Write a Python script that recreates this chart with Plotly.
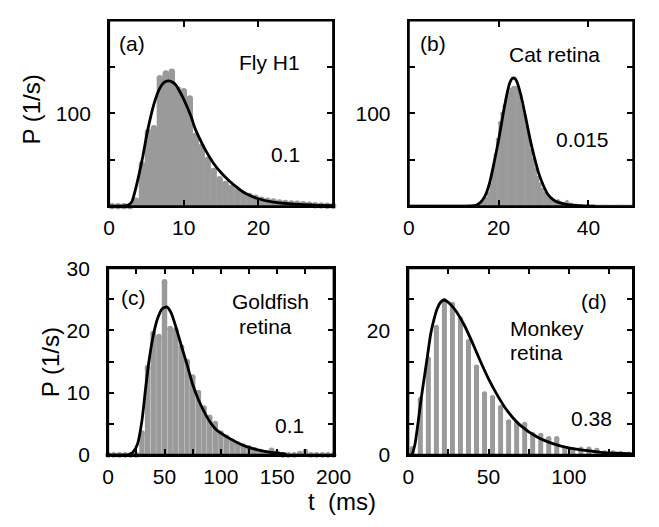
import plotly.graph_objects as go

W, H = 659, 527
GRAY = "#9a9a9a"
FONT = "Liberation Sans, Arial, Helvetica, sans-serif"

# ---------------- data ----------------
# (a) Fly H1
a_hist_t = [0.4, 1.2, 2.0, 2.8, 3.6, 4.4, 5.2, 6.0, 6.8, 7.6, 8.4, 9.2, 10.0, 10.8, 11.6, 12.4,
            13.2, 14.0, 14.8, 15.6, 16.4, 17.2, 18.0, 18.8, 19.6, 20.4, 21.2, 22.0, 22.8, 23.6,
            24.4, 25.2, 26.0, 26.8, 27.6, 28.4, 29.2, 30.0]
a_hist_v = [0, 0, 0, 0, 6, 45, 80, 84, 138, 143, 145, 126, 124, 116, 76, 64,
            50, 38, 29, 24, 20, 16, 13, 11, 9, 7, 6, 5, 4, 3.5,
            3, 2.5, 2, 1.5, 1, 0.8, 0.5, 0.3]
a_fit_t = [0, 2, 2.5, 3, 3.5, 4, 4.5, 5, 5.5, 6, 6.5, 7, 7.5, 8, 8.5, 9, 9.5, 10, 10.5, 11,
           11.5, 12, 13, 14, 15, 16, 17, 18, 19, 20, 22, 24, 26, 28, 30]
a_fit_v = [0, 0.3, 1, 4, 17, 34, 53, 75, 94, 110, 122, 130, 134, 135, 133.5, 130, 123, 115, 106, 96,
           84, 75, 59, 46, 36, 28, 21, 15, 11, 8, 4.3, 2.6, 1.6, 0.9, 0.5]

# (b) Cat retina
b_hist_t = [0.25 + 0.5 * i for i in range(100)]
b_hist_v = [0] * 32 + [3, 5, 8, 14, 24, 38, 55, 72, 90, 100, 108, 115, 122, 126, 128, 128,
                       126, 118, 108, 98, 85, 72, 60, 50, 40, 31, 24, 18, 14, 11, 9, 7,
                       6, 5, 6, 4, 3, 3, 5, 2, 2, 1, 1, 0.5, 0.5] + [0] * 23
b_fit_t = [0, 14, 15, 16, 17, 18, 19, 20, 21, 22, 22.5, 23, 23.5, 24, 25, 26, 27, 28, 29, 30,
           31, 32, 33, 35, 37, 39, 41.5]
b_fit_v = [0, 0.2, 1, 4.2, 11, 25, 47, 71, 99, 124, 133, 137.5, 138, 135, 119, 96.5, 72.5, 52, 34.5, 22,
           12.5, 7.5, 4.6, 2, 0.8, 0.3, 0]

# (c) Goldfish retina
c_hist_t = [5 * i for i in range(41)]
c_hist_v = [0, 0, 0, 0, 0, 0, 3.5, 14, 19.5, 19, 27.8, 20.3, 20, 17.3, 15, 12.5, 10, 7.5, 6, 5,
            3.5, 2.8, 2.2, 1.7, 1.4, 1.1, 0.8, 0.5, 0.3, 0.7, 0.3, 0, 0, 0, 0.2, 0.5, 0, 0, 0, 0, 0]
c_fit_t = [0, 18, 22, 26, 30, 33, 36, 40, 44, 48, 52, 56, 60, 65, 70, 75, 80, 85, 90, 95,
           100, 110, 120, 130, 140, 150, 158]
c_fit_v = [0, 0, 0.4, 1.7, 5.5, 10.3, 14.8, 19.2, 22, 23.5, 23.8, 22.8, 20.6, 17.5, 14.5, 11.3, 8.9, 7.0, 5.4, 4.2,
           3.5, 2.4, 1.5, 0.9, 0.5, 0.25, 0.1]

# (d) Monkey retina
d_hist_t = [2.5 + 5 * i for i in range(28)]
d_hist_v = [1.0, 8.9, 15.4, 20.5, 24.8, 24.2, 21.8, 18.2, 14.1, 9.8, 9.2, 7.6, 5.3, 5.0,
            4.9, 3.3, 3.1, 2.6, 2.6, 1.0, 0.8, 0.9, 0.9, 0.7, 0.3, 0.3, 0.2, 0.1]
d_fit_t = [0, 2, 4, 6, 8, 10, 12, 14, 16, 18, 20, 22, 24, 27, 30, 35, 40, 45, 50, 55,
           60, 65, 70, 80, 90, 100, 110, 120, 130, 140]
d_fit_v = [0, 0, 1.5, 5, 9, 12.5, 16, 19.5, 21.8, 23.5, 24.5, 24.9, 24.7, 24, 23, 20.8, 18, 15, 12.2, 9.8,
           7.7, 6, 4.7, 2.9, 1.8, 1.1, 0.7, 0.4, 0.25, 0.15]

panels = [
    dict(ht=a_hist_t, hv=a_hist_v, ft=a_fit_t, fv=a_fit_v, bw=0.86, ms=6.4),
    dict(ht=b_hist_t, hv=b_hist_v, ft=b_fit_t, fv=b_fit_v, bw=0.6, ms=3.4),
    dict(ht=c_hist_t, hv=c_hist_v, ft=c_fit_t, fv=c_fit_v, bw=4.8, ms=5.8),
    dict(ht=d_hist_t, hv=d_hist_v, ft=d_fit_t, fv=d_fit_v, bw=3.1, ms=5.3),
]

# pixel boxes of the four plot areas (left, right, top, bottom)
boxes = [(107, 339.5, 9, 203), (418, 651, 9, 203), (106, 340, 268, 463), (417.5, 650.7, 268, 463)]

fig = go.Figure()
for i, p in enumerate(panels):
    xa = "x" if i == 0 else f"x{i+1}"
    ya = "y" if i == 0 else f"y{i+1}"
    fig.add_trace(go.Bar(x=p["ht"], y=p["hv"], width=p["bw"], marker=dict(color=GRAY, line_width=0),
                         xaxis=xa, yaxis=ya, hoverinfo="skip"))
    fig.add_trace(go.Scatter(x=p["ht"], y=p["hv"], mode="markers",
                             marker=dict(size=p["ms"], color=GRAY, line_width=0),
                             cliponaxis=False, xaxis=xa, yaxis=ya, hoverinfo="skip"))
    fig.add_trace(go.Scatter(x=p["ft"], y=p["fv"], mode="lines",
                             line=dict(color="black", width=2.8, shape="spline", smoothing=0.6),
                             xaxis=xa, yaxis=ya, hoverinfo="skip"))

tickfont = dict(family=FONT, size=21, color="black")
common = dict(showline=True, linecolor="black", linewidth=2, mirror="allticks", ticks="inside",
              ticklen=6, tickwidth=1.5, tickcolor="black", showgrid=False, zeroline=False,
              tickfont=tickfont)

xcfg = [
    dict(range=[0, 30], tickvals=[0, 10, 20], ticktext=["0", "10", "20"]),
    dict(range=[0, 50], tickvals=[0, 20, 40], ticktext=["0", "20", "40"]),
    dict(range=[0, 200], tickvals=[0, 25, 50, 75, 100, 125, 150, 175, 200],
         ticktext=["0", "", "50", "", "100", "", "150", "", "200"]),
    dict(range=[0, 140], tickvals=[0, 25, 50, 75, 100, 125], ticktext=["0", "", "50", "", "100", ""]),
]
ycfg = [
    dict(range=[0, 200], tickvals=[50, 100, 150], ticktext=["", "100", ""]),
    dict(range=[0, 200], tickvals=[50, 100, 150], ticktext=["", "100", ""]),
    dict(range=[0, 30], tickvals=[0, 5, 10, 15, 20, 25, 30], ticktext=["0", "", "10", "", "20", "", "30"]),
    dict(range=[0, 30], tickvals=[0, 5, 10, 15, 20, 25], ticktext=["0", "", "", "", "20", ""]),
]

lay = {}
for i, (l, r, t, b) in enumerate(boxes):
    sx = "" if i == 0 else str(i + 1)
    lay["xaxis" + sx] = dict(domain=[l / W, r / W], anchor="y" + sx, ticklabelstandoff=2, **common, **xcfg[i])
    lay["yaxis" + sx] = dict(domain=[1 - b / H, 1 - t / H], anchor="x" + sx, ticklabelstandoff=12,
                             **common, **ycfg[i])


def ann(text, x, y, size=21, xanchor="center", angle=0):
    return dict(text=text, x=x / W, y=1 - y / H, xref="paper", yref="paper", showarrow=False,
                xanchor=xanchor, yanchor="middle", textangle=angle,
                font=dict(family=FONT, size=size, color="black"))


annotations = [
    ann("(a)", 130.5, 33), ann("Fly H1", 273, 53), ann("0.1", 290, 148.5),
    ann("(b)", 443.5, 33), ann("Cat retina", 569, 44), ann("0.015", 598, 133.5),
    ann("(c)", 132.5, 299), ann("Goldfish", 275, 302.5), ann("retina", 269.5, 329), ann("0.1", 294, 432.5),
    ann("(d)", 610, 302.5), ann("Monkey", 521, 331, xanchor="left"), ann("retina", 521, 356.5, xanchor="left"),
    ann("0.38", 608, 425),
    ann("P (1/s)", 26, 102, size=24, angle=-90), ann("P (1/s)", 46, 366, size=24, angle=-90),
    ann("t  (ms)", 349, 512, size=24),
]

# black frame around each plot area
shapes = []
for (l, r, t, b) in boxes:
    shapes.append(dict(type="rect", xref="paper", yref="paper", x0=l / W, x1=r / W, y0=1 - b / H, y1=1 - t / H,
                       line=dict(color="black", width=2), fillcolor="rgba(0,0,0,0)", layer="above"))

fig.update_layout(width=W, height=H, margin=dict(l=0, r=0, t=0, b=0), showlegend=False,
                  plot_bgcolor="white", paper_bgcolor="white", barmode="overlay",
                  annotations=annotations, shapes=shapes, **lay)

fig.write_html("out.html")
